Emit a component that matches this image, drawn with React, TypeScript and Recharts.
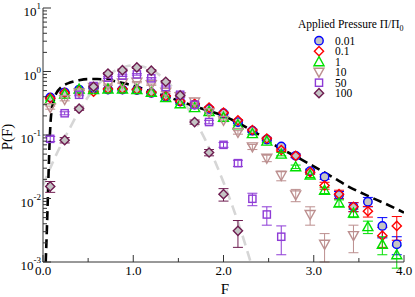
import React from 'react';
import { ComposedChart, Scatter, Line, XAxis, YAxis, ErrorBar, Legend } from 'recharts';

const SERIF = '"Liberation Serif", "DejaVu Serif", serif';

// force bins (F)
const forceBins = [
  0.08, 0.24, 0.4, 0.56, 0.72, 0.88, 1.04, 1.2, 1.36, 1.52, 1.68, 1.84, 2.0,
  2.16, 2.32, 2.48, 2.64, 2.8, 2.96, 3.12, 3.28, 3.44, 3.6, 3.76, 3.92,
];

// P(F) per applied pressure
const p001 = [0.39, 0.47, 0.52, 0.55, 0.52, 0.52, 0.51, 0.46, 0.4, 0.335, 0.3, 0.257, 0.22, 0.16, 0.117, 0.085, 0.066, 0.047, 0.027, 0.022, 0.0114, 0.0074, 0.0089, 0.0037, 0.0019];
const p001Err = [0.012, 0.012, 0.012, 0.012, 0.012, 0.012, 0.012, 0.011, 0.01, 0.009, 0.008, 0.007, 0.006, 0.005, 0.004, 0.004, 0.003, 0.003, 0.002, 0.002, 0.0015, 0.0012, 0.0015, 0.0013, 0.0006];

const p01 = [0.38, 0.46, 0.5, 0.48, 0.53, 0.53, 0.52, 0.47, 0.41, 0.34, 0.31, 0.27, 0.225, 0.17, 0.12, 0.088, 0.058, 0.047, 0.026, 0.016, 0.0117, 0.0074, 0.0063, 0.0026, 0.0037];
const p01Err = [0.012, 0.012, 0.012, 0.012, 0.012, 0.012, 0.012, 0.011, 0.01, 0.009, 0.008, 0.007, 0.006, 0.005, 0.004, 0.004, 0.003, 0.003, 0.002, 0.002, 0.0018, 0.0012, 0.0012, 0.0009, 0.0015];

const p1 = [0.36, 0.44, 0.53, 0.52, 0.53, 0.53, 0.52, 0.47, 0.39, 0.31, 0.27, 0.235, 0.19, 0.145, 0.105, 0.08, 0.05, 0.0316, 0.0234, 0.0135, 0.0085, 0.0059, 0.0036, 0.0019, 0.0013];
const p1Err = [0.012, 0.012, 0.012, 0.012, 0.012, 0.012, 0.012, 0.011, 0.01, 0.009, 0.008, 0.007, 0.006, 0.005, 0.004, 0.004, 0.003, 0.002, 0.002, 0.0015, 0.001, 0.0009, 0.0008, 0.0006, 0.0005];

const p10 = [0.27, 0.36, 0.46, 0.56, 0.62, 0.66, 0.68, 0.62, 0.47, 0.4, 0.33, 0.225, 0.17, 0.11, 0.065, 0.043, 0.023, 0.0114, 0.0056, 0.0019, null, 0.0026, null, null, null];
const p10Err = [0.015, 0.015, 0.015, 0.015, 0.015, 0.015, 0.015, 0.015, 0.014, 0.012, 0.01, 0.009, 0.008, 0.007, 0.006, 0.005, 0.004, 0.0025, 0.0018, 0.0009, 0, 0.0012, 0, 0, 0];

const p50 = [0.087, 0.22, 0.43, 0.59, 0.8, 0.86, 0.9, 0.78, 0.57, 0.43, 0.3, 0.16, 0.07, 0.036, 0.0099, 0.0056, 0.0025];
const p50Err = [0.008, 0.012, 0.015, 0.02, 0.025, 0.025, 0.025, 0.022, 0.02, 0.016, 0.014, 0.01, 0.006, 0.004, 0.0022, 0.0018, 0.0012];

const p100 = [0.0155, 0.083, 0.26, 0.575, 0.93, 1.05, 1.16, 1.03, 0.69, 0.42, 0.16, 0.053, 0.0117, 0.0031];
const p100Err = [0.003, 0.008, 0.015, 0.025, 0.035, 0.04, 0.04, 0.035, 0.03, 0.02, 0.012, 0.006, 0.0026, 0.0014];

// fitted curves
const fitF = [0.03, 0.045, 0.055, 0.065, 0.075, 0.085, 0.1, 0.125, 0.15, 0.2, 0.3, 0.4, 0.5, 0.6, 0.7, 0.8, 0.9, 1.0, 1.1, 1.2, 1.4, 1.6, 1.8, 2.0, 2.2, 2.4, 2.6, 2.8, 3.0, 3.2, 3.4, 3.6, 3.8, 4.0];
const fitP = [0.001, 0.004, 0.012, 0.035, 0.09, 0.17, 0.26, 0.38, 0.46, 0.56, 0.67, 0.73, 0.76, 0.76, 0.74, 0.7, 0.65, 0.6, 0.54, 0.48, 0.39, 0.31, 0.25, 0.2, 0.145, 0.1, 0.065, 0.046, 0.032, 0.022, 0.015, 0.011, 0.0082, 0.006];

const gaussF = [0.0, 0.1, 0.2, 0.3, 0.4, 0.5, 0.6, 0.7, 0.8, 0.9, 1.0, 1.1, 1.2, 1.3, 1.4, 1.5, 1.6, 1.7, 1.8, 1.9, 2.0, 2.1, 2.2, 2.3];
const gaussP = [0.016, 0.035, 0.07, 0.13, 0.24, 0.4, 0.6, 0.83, 1.03, 1.18, 1.25, 1.2, 1.06, 0.86, 0.64, 0.43, 0.27, 0.155, 0.083, 0.04, 0.018, 0.0075, 0.0029, 0.001];

// axis ticks
const xTicks = [0, 0.5, 1, 1.5, 2, 2.5, 3, 3.5, 4];
const yDecades = [0.001, 0.01, 0.1, 1];
const yMults = [1, 2, 3, 4, 5, 6, 7, 8, 9];
const yTicks = [...yDecades.flatMap((d) => yMults.map((m) => +(d * m).toPrecision(3))), 10];

const rows = (vals: (number | null)[], errs: number[]) =>
  vals
    .map((y, i) => (y == null ? null : { x: forceBins[i], y, err: errs[i] }))
    .filter(Boolean) as { x: number; y: number; err: number }[];

const curve = (xs: number[], ys: number[]) => xs.map((x, i) => ({ x, y: ys[i] }));

const series = [
  { name: '0.01', kind: 'circle', stroke: '#0000ff', fill: '#c4c4c4', data: rows(p001, p001Err) },
  { name: '0.1', kind: 'diamond', stroke: '#ff0000', fill: 'none', data: rows(p01, p01Err) },
  { name: '1', kind: 'up', stroke: '#00e000', fill: 'none', data: rows(p1, p1Err) },
  { name: '10', kind: 'down', stroke: '#bc8f8f', fill: 'none', data: rows(p10, p10Err) },
  { name: '50', kind: 'square', stroke: '#8e3bd6', fill: 'none', data: rows(p50, p50Err) },
  { name: '100', kind: 'diamond', stroke: '#6e1c50', fill: '#c4c4c4', data: rows(p100, p100Err) },
];

function Marker({ cx, cy, kind, stroke, fill }: any) {
  if (cx == null || cy == null) return null;
  const common = { stroke, fill, strokeWidth: 1.4 };
  switch (kind) {
    case 'circle':
      return <circle cx={cx} cy={cy} r={4.2} {...common} />;
    case 'diamond':
      return <polygon points={`${cx},${cy - 4.6} ${cx + 4.6},${cy} ${cx},${cy + 4.6} ${cx - 4.6},${cy}`} {...common} />;
    case 'up':
      return <polygon points={`${cx},${cy - 5} ${cx + 5},${cy + 4} ${cx - 5},${cy + 4}`} {...common} />;
    case 'down':
      return <polygon points={`${cx},${cy + 5} ${cx + 5},${cy - 4} ${cx - 5},${cy - 4}`} {...common} />;
    default:
      return <rect x={cx - 3.6} y={cy - 3.6} width={7.2} height={7.2} {...common} />;
  }
}

const isDecade = (v: number) => Math.abs(Math.log10(v) - Math.round(Math.log10(v))) < 1e-6;
const isWhole = (v: number) => Math.abs(v - Math.round(v)) < 1e-6;

const BottomTick = ({ x, y, payload }: any) => {
  const major = isWhole(payload.value);
  return (
    <g>
      <line x1={x} x2={x} y1={y} y2={y - (major ? 7 : 4)} stroke="#333" />
      {major && (
        <text x={x} y={y + 13} textAnchor="middle" fontSize={13} fontFamily={SERIF} fill="#000">
          {payload.value.toFixed(1)}
        </text>
      )}
    </g>
  );
};

const TopTick = ({ x, y, payload }: any) => (
  <line x1={x} x2={x} y1={y} y2={y + (isWhole(payload.value) ? 7 : 4)} stroke="#333" />
);

const LeftTick = ({ x, y, payload }: any) => {
  const v = payload.value;
  const major = isDecade(v);
  return (
    <g>
      <line x1={x} x2={x + (major ? 8 : 4)} y1={y} y2={y} stroke="#333" />
      {major && (
        <text x={x - 2} y={y + 8} textAnchor="end" fontSize={13} fontFamily={SERIF} fill="#000">
          10
          <tspan dy={-7} fontSize={9}>
            {Math.round(Math.log10(v))}
          </tspan>
        </text>
      )}
    </g>
  );
};

const RightTick = ({ x, y, payload }: any) => (
  <line x1={x} x2={x - (isDecade(payload.value) ? 8 : 4)} y1={y} y2={y} stroke="#333" />
);

const LegendBox = () => (
  <svg width={415} height={297} style={{ position: 'absolute', left: 0, top: 0, pointerEvents: 'none' }}>
    <text x={298} y={28} fontSize={11.5} fontFamily={SERIF} fill="#000">
      Applied Pressure Π/Π<tspan dy={3} fontSize={8}>0</tspan>
    </text>
    {series.map((s, i) => {
      const cy = 40.7 + i * 10.5;
      return (
        <g key={s.name}>
          <Marker cx={319} cy={cy} kind={s.kind} stroke={s.stroke} fill={s.fill} />
          <text x={335} y={cy + 4} fontSize={11.5} fontFamily={SERIF} fill="#000">
            {s.name}
          </text>
        </g>
      );
    })}
  </svg>
);

export default function App() {
  return (
    <div style={{ position: 'absolute', left: 0, top: 0, width: 415, height: 297, background: '#fff' }}>
      <ComposedChart
        width={415}
        height={297}
        margin={{ top: 8, right: 11, bottom: 0, left: 0 }}
        style={{ fontFamily: SERIF }}
      >
        <XAxis
          xAxisId="b"
          dataKey="x"
          type="number"
          domain={[0, 4]}
          ticks={xTicks}
          interval={0}
          allowDataOverflow
          height={35}
          tickSize={0}
          tickMargin={0}
          tickLine={false}
          tick={(p: any) => <BottomTick {...p} />}
          axisLine={{ stroke: '#333' }}
          label={{
            content: () => (
              <text x={225} y={294} textAnchor="middle" fontSize={15} fontFamily={SERIF} fill="#000">
                F
              </text>
            ),
          }}
        />
        <XAxis
          xAxisId="t"
          orientation="top"
          dataKey="x"
          type="number"
          domain={[0, 4]}
          ticks={xTicks}
          interval={0}
          allowDataOverflow
          height={0}
          tickSize={0}
          tickMargin={0}
          tickLine={false}
          tick={(p: any) => <TopTick {...p} />}
          axisLine={{ stroke: '#333' }}
        />
        <YAxis
          yAxisId="l"
          dataKey="y"
          type="number"
          scale="log"
          domain={[0.001, 10]}
          ticks={yTicks}
          interval={0}
          allowDataOverflow
          width={43}
          tickSize={0}
          tickMargin={0}
          tickLine={false}
          tick={(p: any) => <LeftTick {...p} />}
          axisLine={{ stroke: '#333' }}
          label={{
            content: () => (
              <text
                x={12}
                y={137}
                transform="rotate(-90 12 137)"
                textAnchor="middle"
                fontSize={15}
                fontFamily={SERIF}
                fill="#000"
              >
                P(F)
              </text>
            ),
          }}
        />
        <YAxis
          yAxisId="r"
          orientation="right"
          dataKey="y"
          type="number"
          scale="log"
          domain={[0.001, 10]}
          ticks={yTicks}
          interval={0}
          allowDataOverflow
          width={0}
          tickSize={0}
          tickMargin={0}
          tickLine={false}
          tick={(p: any) => <RightTick {...p} />}
          axisLine={{ stroke: '#333' }}
        />

        <Line
          xAxisId="b"
          yAxisId="l"
          data={curve(gaussF, gaussP)}
          dataKey="y"
          type="monotone"
          stroke="#d6d6d6"
          strokeWidth={2.6}
          strokeDasharray="10 6"
          dot={false}
          isAnimationActive={false}
        />

        {series.map((s) => (
          <Scatter
            key={s.name}
            name={s.name}
            xAxisId="b"
            yAxisId="l"
            data={s.data}
            dataKey="y"
            isAnimationActive={false}
            shape={(p: any) => <Marker cx={p.cx} cy={p.cy} kind={s.kind} stroke={s.stroke} fill={s.fill} />}
          >
            <ErrorBar dataKey="err" direction="y" width={5} stroke={s.stroke} strokeWidth={1} />
          </Scatter>
        ))}

        <Line
          xAxisId="b"
          yAxisId="l"
          data={curve(fitF, fitP)}
          dataKey="y"
          type="monotone"
          stroke="#000"
          strokeWidth={2.6}
          strokeDasharray="9 5"
          dot={false}
          isAnimationActive={false}
        />

        <Legend
          layout="vertical"
          align="center"
          verticalAlign="middle"
          wrapperStyle={{ position: 'absolute', left: 0, top: 0, width: 415, height: 297, pointerEvents: 'none' }}
          content={() => <LegendBox />}
        />
      </ComposedChart>
    </div>
  );
}
